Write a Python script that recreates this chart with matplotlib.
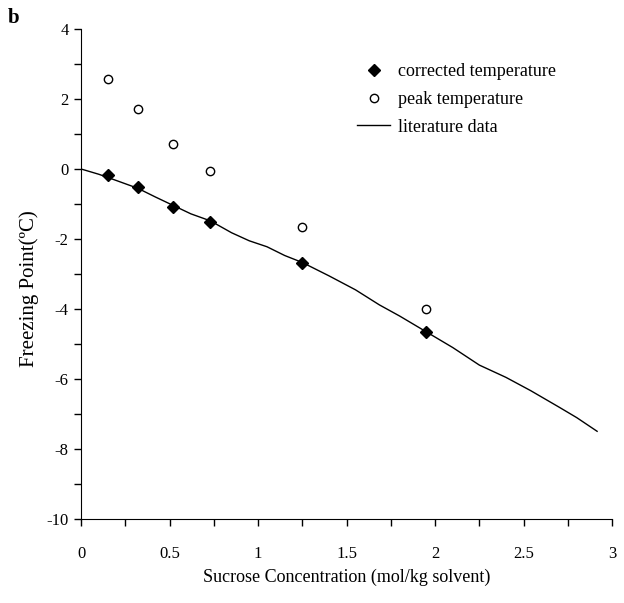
import matplotlib
matplotlib.use("Agg")
import matplotlib.pyplot as plt
from matplotlib.ticker import MultipleLocator

plt.rcParams['font.family'] = ['Liberation Serif', 'DejaVu Serif']

conc = [0.15, 0.32, 0.52, 0.73, 1.25, 1.95]
corrected = [-0.17, -0.51, -1.08, -1.5, -2.67, -4.65]
peak = [2.58, 1.7, 0.71, -0.06, -1.65, -4.0]

lit_x = [0, 0.1, 0.2, 0.32, 0.42, 0.52, 0.62, 0.73, 0.85, 0.95, 1.05, 1.15, 1.25,
         1.4, 1.55, 1.685, 1.8, 1.95, 2.1, 2.25, 2.4, 2.54, 2.7, 2.8, 2.915]
lit_y = [0, -0.15, -0.33, -0.55, -0.8, -1.04, -1.28, -1.48, -1.82, -2.05, -2.22, -2.47,
         -2.67, -3.05, -3.45, -3.88, -4.2, -4.65, -5.1, -5.6, -5.95, -6.33, -6.8, -7.1, -7.49]

fig = plt.figure(figsize=(6.24, 6.03), dpi=100)
ax = fig.add_axes([0.13, 0.139, 0.851, 0.813])

ax.plot(conc, corrected, linestyle='none', marker='D', markersize=6, color='black',
        label='corrected temperature')
ax.plot(conc, peak, linestyle='none', marker='o', markersize=6, markerfacecolor='white',
        markeredgecolor='black', markeredgewidth=1, label='peak temperature')
ax.plot(lit_x, lit_y, color='black', linewidth=1, label='literature data')

ax.set_xlim(0, 3)
ax.set_ylim(-10, 4)
ax.xaxis.set_major_locator(MultipleLocator(0.5))
ax.xaxis.set_minor_locator(MultipleLocator(0.25))
ax.yaxis.set_major_locator(MultipleLocator(2))
ax.yaxis.set_minor_locator(MultipleLocator(1))
ax.xaxis.set_major_formatter(plt.FuncFormatter(lambda v, p: f"{v:g}"))
ax.yaxis.set_major_formatter(plt.FuncFormatter(lambda v, p: f"{v:g}".replace('\u2212', '-')))
for s in ['top', 'right']:
    ax.spines[s].set_visible(False)
ax.tick_params(which='both', direction='out', length=5, width=1, labelsize=12)
ax.tick_params(axis='x', pad=14)
ax.tick_params(axis='y', pad=4)

ax.set_xlabel('Sucrose Concentration (mol/kg solvent)', fontsize=13)
ax.set_ylabel('Freezing Point(ºC)', fontsize=15)
ax.xaxis.set_label_coords(0.5, -0.102)
ax.yaxis.set_label_coords(-0.079, 0.471)

fig.legend(loc='upper left', bbox_to_anchor=(0.572, 0.8955), frameon=False, fontsize=13,
           handlelength=1.85, handletextpad=0.45, labelspacing=0.6,
           borderpad=0, borderaxespad=0)

fig.text(0.013, 0.962, 'b', fontsize=15, fontweight='bold')

fig.savefig('out.png', dpi=100)
